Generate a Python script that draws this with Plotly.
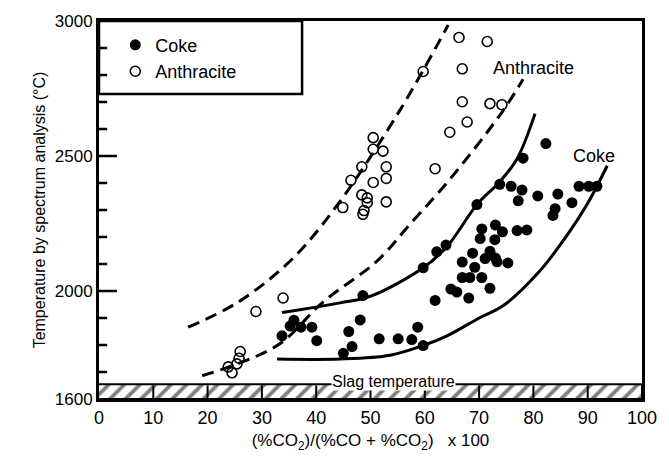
import plotly.graph_objects as go

# ---- data ----
coke_x = [33.7, 35.2, 35.9, 37.2, 39.2, 40.1, 45.0, 46.6, 46.0, 48.1, 48.6, 51.6, 55.1, 57.6,
          58.7, 59.7, 59.7, 62.2, 63.9, 61.9, 64.8, 65.9, 68.1, 66.9, 68.3, 70.5, 72.0, 66.9,
          69.2, 68.8, 71.1, 73.3, 75.3, 72.0, 73.0, 70.2, 72.9, 70.5, 73.0, 74.3, 77.0, 78.8,
          69.6, 73.8, 75.9, 77.9, 77.2, 80.8, 84.5, 84.0, 83.6, 87.1, 88.4, 90.2, 91.7, 78.1,
          82.3]
coke_y = [1834, 1870, 1892, 1866, 1866, 1816, 1769, 1794, 1850, 1893, 1983, 1823, 1823, 1820,
          1866, 1798, 2086, 2145, 2170, 1965, 2007, 1996, 1974, 2050, 2050, 2050, 2010, 2107,
          2088, 2140, 2120, 2108, 2104, 2147, 2122, 2194, 2190, 2230, 2244, 2219, 2224, 2226,
          2320, 2395, 2388, 2374, 2334, 2352, 2359, 2305, 2280, 2327, 2388, 2388, 2388, 2492,
          2546]

anth_x = [50.5, 50.5, 52.3, 52.9, 48.4, 52.9, 50.5, 46.4, 61.9, 64.6, 48.4, 49.4, 49.4, 52.9,
          44.9, 48.8, 48.6, 66.3, 71.5, 59.7, 66.9, 66.9, 72.0, 74.2, 67.8, 33.9, 28.9, 26.0,
          25.8, 25.4, 23.8, 24.5]
anth_y = [2568, 2525, 2518, 2460, 2460, 2417, 2402, 2410, 2453, 2588, 2356, 2345, 2327, 2330,
          2309, 2298, 2284, 2939, 2924, 2813, 2823, 2701, 2694, 2690, 2626, 1974, 1924, 1776,
          1751, 1730, 1719, 1697]

# envelope curves
anth_hi_x = [16.4, 25.4, 35.2, 43.8, 55.4, 64.3]
anth_hi_y = [1866, 1956, 2111, 2316, 2669, 2985]
anth_lo_x = [19.0, 32.8, 41.3, 51.2, 57.6, 64.3, 74.2, 78.1]
anth_lo_y = [1686, 1798, 1960, 2111, 2255, 2406, 2662, 2784]
coke_hi_x = [33.7, 44.4, 49.9, 59.7, 64.1, 69.6, 73.8, 77.0, 80.3]
coke_hi_y = [1920, 1956, 1980, 2086, 2165, 2320, 2405, 2490, 2657]
coke_lo_x = [32.8, 44.4, 53.6, 59.7, 64.1, 70.2, 74.4, 81.0, 86.5, 90.0, 93.6]
coke_lo_y = [1748, 1748, 1762, 1798, 1834, 1902, 1945, 2070, 2215, 2325, 2464]

slag_x = [0, 100, 100, 0]
slag_y = [1600, 1600, 1655, 1655]

x_ticks = [0, 10, 20, 30, 40, 50, 60, 70, 80, 90, 100]
y_ticks = [1600, 2000, 2500, 3000]
y_minor = list(range(1700, 3000, 100))
y_major = [2000, 2500]

FONT = "Liberation Sans"

fig = go.Figure()

# slag band
fig.add_trace(go.Scatter(
    x=slag_x, y=slag_y, fill="toself", mode="lines",
    line=dict(color="black", width=2),
    fillcolor="white",
    fillpattern=dict(shape="/", fgcolor="black", bgcolor="white", size=11, solidity=0.35),
    showlegend=False, hoverinfo="skip"))

# envelope curves
for cx, cy, dash in [(anth_hi_x, anth_hi_y, "dash"), (anth_lo_x, anth_lo_y, "dash"),
                     (coke_hi_x, coke_hi_y, "solid"), (coke_lo_x, coke_lo_y, "solid")]:
    fig.add_trace(go.Scatter(
        x=cx, y=cy, mode="lines",
        line=dict(color="black", width=3, dash="12px,7px" if dash == "dash" else "solid",
                  shape="spline", smoothing=1.0),
        showlegend=False, hoverinfo="skip"))

fig.add_trace(go.Scatter(
    x=coke_x, y=coke_y, mode="markers", name="Coke",
    marker=dict(symbol="circle", size=11, color="black", line=dict(color="black", width=0))))
fig.add_trace(go.Scatter(
    x=anth_x, y=anth_y, mode="markers", name="Anthracite",
    marker=dict(symbol="circle-open", size=10, color="black", line=dict(color="black", width=1.6))))

# inside tick marks (data-coordinate lines so they are always drawn)
for v in y_minor:
    L = 3.3 if v in y_major else 1.5
    fig.add_shape(type="line", xref="x", yref="y", x0=0, x1=L, y0=v, y1=v,
                  line=dict(color="black", width=2.5), layer="above")
for v in x_ticks[1:-1]:
    fig.add_shape(type="line", xref="x", yref="y", x0=v, x1=v, y0=1600, y1=1650,
                  line=dict(color="black", width=2), layer="above")

fig.add_annotation(x=80.1, y=2827, text="Anthracite", showarrow=False,
                   font=dict(family=FONT, size=18, color="black"))
fig.add_annotation(x=91.2, y=2500, text="Coke", showarrow=False,
                   font=dict(family=FONT, size=18, color="black"))
fig.add_annotation(x=54.3, y=1655, yanchor="bottom", text="Slag temperature", showarrow=False,
                   bgcolor="white", borderpad=0, yshift=-7,
                   font=dict(family=FONT, size=16, color="black"))

# legend frame
fig.add_shape(type="rect", xref="paper", yref="paper", x0=0, x1=0.374, y0=0.807, y1=1,
              line=dict(color="black", width=2.5), fillcolor="rgba(0,0,0,0)")

fig.update_xaxes(range=[0, 100], tickvals=x_ticks, ticks="",
                 showline=True, linecolor="black", linewidth=3, mirror=True,
                 showgrid=False, zeroline=False,
                 tickfont=dict(family=FONT, size=18, color="black"),
                 title=dict(text="(%CO<sub>2</sub>)/(%CO + %CO<sub>2</sub>)   x 100",
                            font=dict(family=FONT, size=17, color="black"), standoff=8))
fig.update_yaxes(range=[1600, 3000], tickvals=y_ticks, ticks="",
                 showline=True, linecolor="black", linewidth=3, mirror=True,
                 showgrid=False, zeroline=False,
                 tickfont=dict(family=FONT, size=17, color="black"),
                 title=dict(text="Temperature by spectrum analysis (°C)",
                            font=dict(family=FONT, size=16, color="black"), standoff=6))

fig.update_layout(
    width=669, height=459,
    margin=dict(l=99, r=27, t=13, b=57),
    plot_bgcolor="white", paper_bgcolor="white",
    font=dict(family=FONT, color="black"),
    legend=dict(x=0.03, y=0.985, xanchor="left", yanchor="top", bgcolor="rgba(0,0,0,0)",
                font=dict(family=FONT, size=18, color="black"), itemwidth=30,
                tracegroupgap=0),
)

fig.write_html("out.html")
